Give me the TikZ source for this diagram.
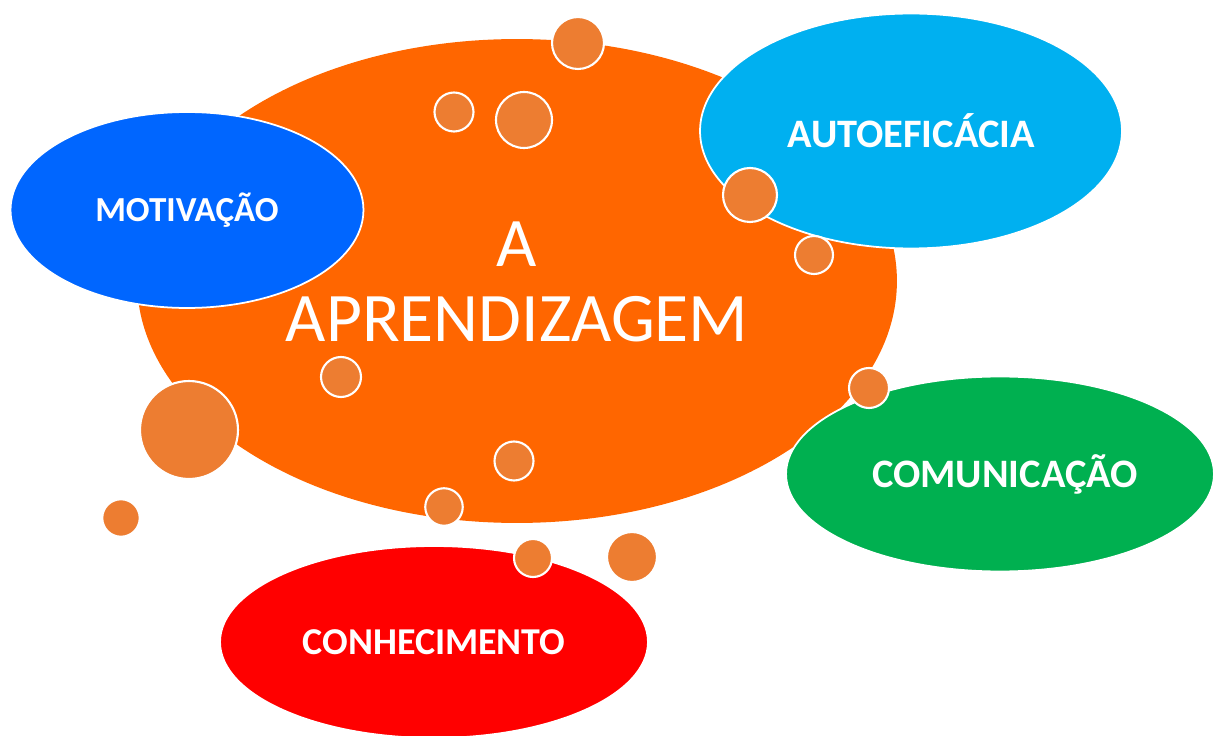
\documentclass[tikz,border=0pt]{standalone}
\usepackage{fontspec}
\setmainfont{Carlito}
\usepackage{tikz}
\usetikzlibrary{shapes.geometric}
\usepackage{xcolor}
\definecolor{aprorange}{RGB}{255,102,0}
\definecolor{bubble}{RGB}{237,125,49}
\definecolor{motblue}{RGB}{0,102,255}
\definecolor{autoblue}{RGB}{0,176,240}
\definecolor{comgreen}{RGB}{0,176,80}
\definecolor{conred}{RGB}{255,0,0}

\begin{document}
\begin{tikzpicture}[x=0.02cm,y=-0.02cm]
    \tikzstyle{every node}=[inner sep=0pt,text=white]
    \tikzstyle{blob}=[ellipse,draw=white,line width=1pt]
    \tikzstyle{label}=[font=\fontsize{23}{27}\selectfont\bfseries]
    \tikzstyle{bubble}=[circle,fill=bubble,draw=white,line width=1.2pt]
    \useasboundingbox (0,0) rectangle (1214,736);
    \node[ellipse,fill=aprorange,minimum width=15.2cm,minimum height=9.68cm] (apr) at (517,281) {};
    \node[align=center,font=\fontsize{39.6}{43}\selectfont] (title) at (517,282) {A\\APRENDIZAGEM};
    \node[blob,fill=motblue,minimum width=7.06cm,minimum height=3.92cm,label,font=\fontsize{20}{24}\selectfont\bfseries] (mot) at (187,210) {MOTIVAÇÃO};
    \node[blob,fill=autoblue,minimum width=8.44cm,minimum height=4.7cm,label] (auto) at (911,131) {AUTOEFICÁCIA};
    \node[blob,fill=comgreen,minimum width=8.56cm,minimum height=3.9cm] (com) at (1000,474) {};
    \node[label] (com-text) at (1005,474) {COMUNICAÇÃO};
    \node[blob,fill=conred,minimum width=8.56cm,minimum height=3.84cm,label,font=\fontsize{21.6}{26}\selectfont\bfseries] (con) at (434,642) {CONHECIMENTO};
    \node[bubble,minimum size=1.04cm] (b-1) at (578,43) {};
    \node[bubble,minimum size=0.78cm] (b-2) at (454,112) {};
    \node[bubble,minimum size=1.12cm] (b-3) at (524,120) {};
    \node[bubble,minimum size=1.08cm] (b-4) at (750,195) {};
    \node[bubble,minimum size=0.76cm] (b-5) at (814,255) {};
    \node[bubble,minimum size=0.8cm] (b-6) at (341,377) {};
    \node[bubble,minimum size=1.96cm] (b-7) at (189,430) {};
    \node[bubble,minimum size=0.8cm] (b-8) at (869,388) {};
    \node[bubble,minimum size=0.78cm] (b-9) at (514,461) {};
    \node[bubble,minimum size=0.75cm] (b-10) at (444,507) {};
    \node[bubble,minimum size=0.75cm] (b-11) at (121,518) {};
    \node[bubble,minimum size=0.76cm] (b-12) at (533,558) {};
    \node[bubble,minimum size=1.0cm] (b-13) at (632,557) {};
\end{tikzpicture}
\end{document}
